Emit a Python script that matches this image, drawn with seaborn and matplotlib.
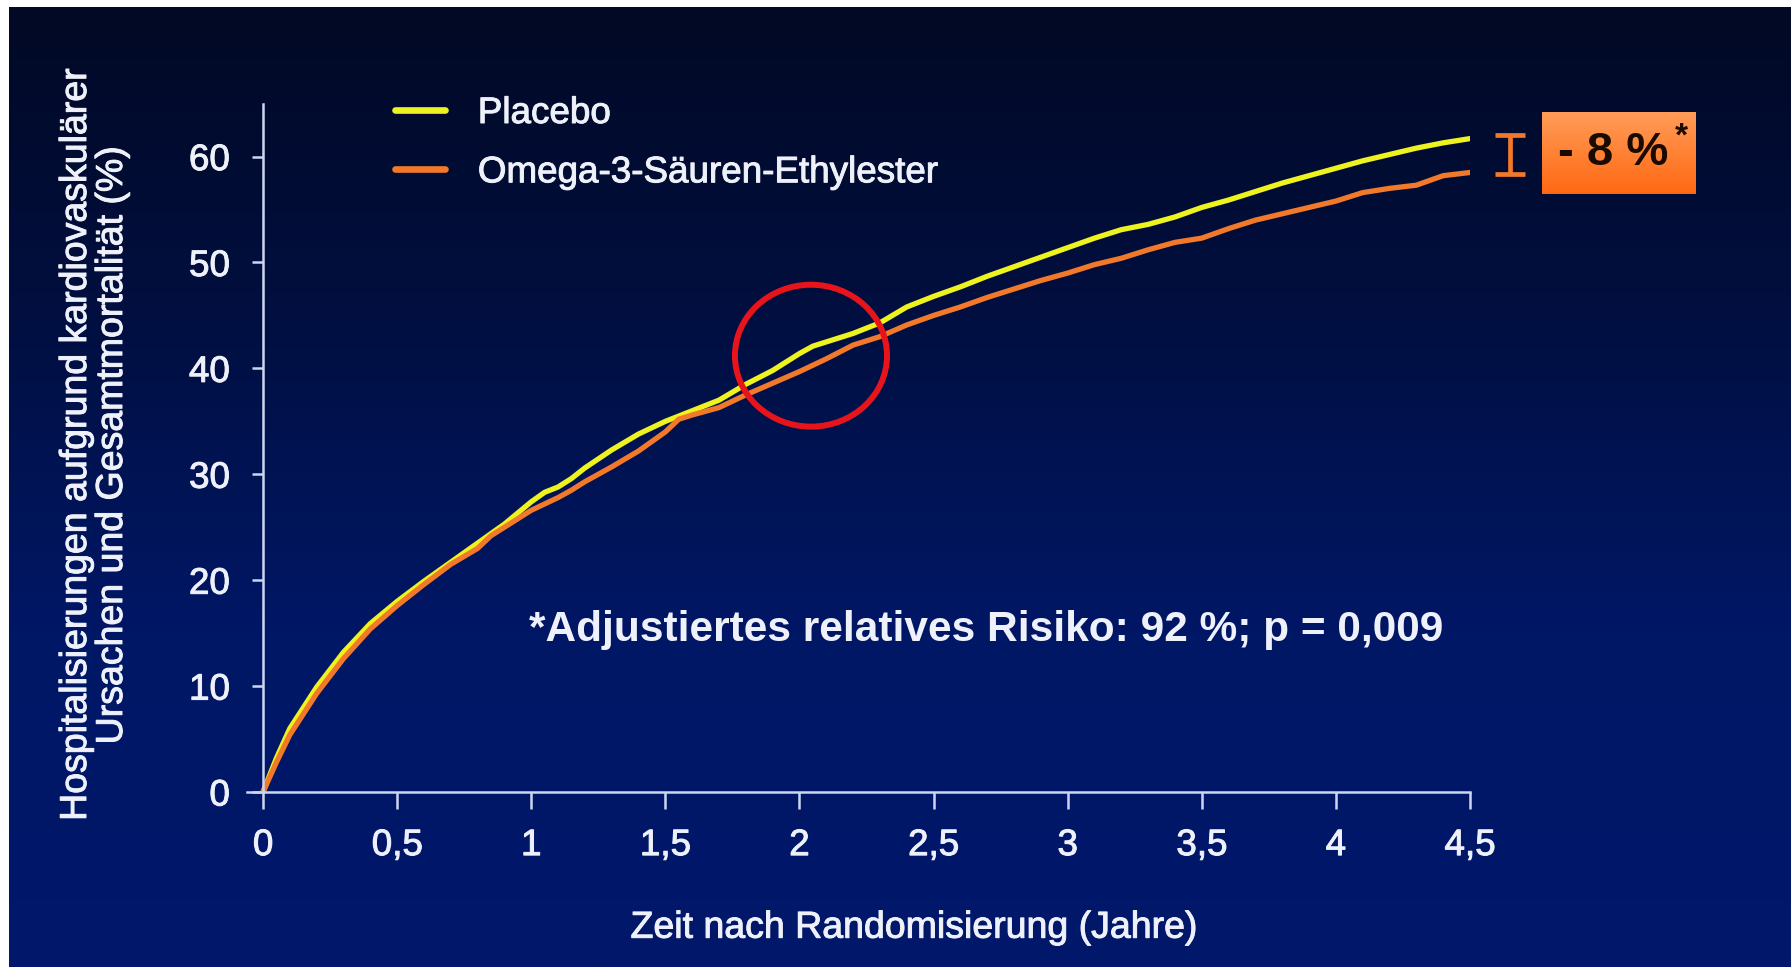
import numpy as np
import pandas as pd
import matplotlib
matplotlib.use("Agg")
import matplotlib.pyplot as plt
from matplotlib.patches import Ellipse
from matplotlib.lines import Line2D
import matplotlib.patheffects as pe
import seaborn as sns

# ---------------- data ----------------
zeit = [0, 0.05, 0.1, 0.2, 0.3, 0.4, 0.5, 0.6, 0.7, 0.8, 0.85, 0.9, 1.0, 1.05, 1.1, 1.15, 1.2,
        1.3, 1.4, 1.5, 1.55, 1.6, 1.7, 1.8, 1.9, 2.0, 2.05, 2.1, 2.2, 2.25, 2.3, 2.4, 2.5, 2.6,
        2.7, 2.8, 2.9, 3.0, 3.1, 3.2, 3.3, 3.4, 3.5, 3.6, 3.7, 3.8, 3.9, 4.0, 4.1, 4.2, 4.3,
        4.4, 4.5]
placebo = [0, 3.2, 6.0, 9.9, 13.2, 15.9, 18.0, 19.9, 21.7, 23.5, 24.4, 25.3, 27.4, 28.3, 28.8,
           29.6, 30.6, 32.3, 33.8, 35.0, 35.5, 36.0, 37.0, 38.5, 39.8, 41.4, 42.1, 42.5, 43.3,
           43.8, 44.3, 45.8, 46.8, 47.7, 48.7, 49.6, 50.5, 51.4, 52.3, 53.1, 53.6, 54.3, 55.2,
           55.9, 56.7, 57.5, 58.2, 58.9, 59.6, 60.2, 60.8, 61.3, 61.7]
omega3 = [0, 2.8, 5.4, 9.3, 12.6, 15.4, 17.6, 19.6, 21.5, 23.0, 24.2, 25.0, 26.6, 27.2, 27.8,
          28.5, 29.3, 30.7, 32.2, 34.0, 35.2, 35.6, 36.3, 37.5, 38.6, 39.7, 40.3, 40.9, 42.2,
          42.6, 43.0, 44.1, 45.0, 45.8, 46.7, 47.5, 48.3, 49.0, 49.8, 50.4, 51.2, 51.9, 52.3,
          53.2, 54.0, 54.6, 55.2, 55.8, 56.6, 57.0, 57.3, 58.2, 58.5]
gruppen = ["Placebo", "Omega-3-Säuren-Ethylester"]
x_ticks = [0, 0.5, 1, 1.5, 2, 2.5, 3, 3.5, 4, 4.5]
x_ticklabels = ["0", "0,5", "1", "1,5", "2", "2,5", "3", "3,5", "4", "4,5"]
y_ticks = [0, 10, 20, 30, 40, 50, 60]
y_ticklabels = ["0", "10", "20", "30", "40", "50", "60"]
differenz_oben = 62.0
differenz_unten = 58.4
differenz_text = "- 8 %"
differenz_stern = "*"
fussnote = "*Adjustiertes relatives Risiko: 92 %; p = 0,009"
xlabel = "Zeit nach Randomisierung (Jahre)"
ylabel = "Hospitalisierungen aufgrund kardiovaskulärer\nUrsachen und Gesamtmortalität (%)"

df = pd.DataFrame({
    "Zeit": zeit * 2,
    "Wert": placebo + omega3,
    "Gruppe": [gruppen[0]] * len(zeit) + [gruppen[1]] * len(zeit),
})

# ---------------- style ----------------
sns.set_theme(style="white")
plt.rcParams["font.family"] = ["Liberation Sans", "DejaVu Sans"]
TXT = "#EEF1FA"
AXC = "#CDD6F0"
YELLOW = "#EEF21E"
ORANGE = "#F2782A"
thick = [pe.withStroke(linewidth=0.7, foreground=TXT)]

W, H = 1791, 967
fig = plt.figure(figsize=(W / 100, H / 100), dpi=100, facecolor="white")

# gradient background (white frame at top and left)
bg = fig.add_axes([9 / W, 0, 1 - 9 / W, 1 - 7 / H])
bg.set_axis_off()
ys = np.linspace(0, 1, 400)
stops_pos = [0.0, 0.32, 0.65, 1.0]
stops_col = np.array([[2, 9, 36], [1, 15, 64], [0, 23, 102], [0, 24, 107]]) / 255
grad = np.stack([np.interp(ys, stops_pos, stops_col[:, c]) for c in range(3)], axis=-1)
bg.imshow(grad[:, None, :], aspect="auto", extent=[0, 1, 1, 0])
bg.set_xlim(0, 1)
bg.set_ylim(1, 0)

# main axes
x_left_px = 263 - 0.06 * 268.2
ax = fig.add_axes([x_left_px / W, (H - 792) / H, (1470 - x_left_px) / W, 65 * 10.59 / H])
ax.patch.set_alpha(0)

sns.lineplot(data=df, x="Zeit", y="Wert", hue="Gruppe", hue_order=gruppen,
             palette={gruppen[0]: YELLOW, gruppen[1]: ORANGE}, linewidth=3.8,
             ax=ax, legend=False, estimator=None, sort=False)

ax.set_xlim(-0.06, 4.5)
ax.set_ylim(0, 65)
for s in ["top", "right"]:
    ax.spines[s].set_visible(False)
ax.spines["left"].set_position(("data", 0))
for s in ["left", "bottom"]:
    ax.spines[s].set_color(AXC)
    ax.spines[s].set_linewidth(1.8)

ax.set_xticks(x_ticks)
ax.set_xticklabels(x_ticklabels)
ax.set_yticks(y_ticks)
ax.set_yticklabels(y_ticklabels)
ax.tick_params(axis="x", direction="out", length=12, width=1.8, color=AXC, pad=14,
               labelsize=26.5, labelcolor=TXT, bottom=True)
ax.tick_params(axis="y", direction="out", length=8, width=1.8, color=AXC, pad=16,
               labelsize=26.5, labelcolor=TXT, left=True)
for lab in ax.get_xticklabels() + ax.get_yticklabels():
    lab.set_path_effects(thick)

ax.set_xlabel(xlabel, fontsize=27, color=TXT, path_effects=thick)
ax.xaxis.set_label_coords((914 - x_left_px) / (1470 - x_left_px), -0.171)
ax.set_ylabel(ylabel, fontsize=27, color=TXT, linespacing=1.0, path_effects=thick)
ax.yaxis.set_label_coords((130 - x_left_px) / (1470 - x_left_px), 0.504)

# legend
handles = [Line2D([], [], color=YELLOW, lw=4.8), Line2D([], [], color=ORANGE, lw=4.8)]
leg = ax.legend(handles, gruppen, loc="upper left", bbox_to_anchor=(395 / W, 1 - 96 / H),
                bbox_transform=fig.transFigure, frameon=False, fontsize=26.5,
                handlelength=1.35, handletextpad=0.9, labelspacing=0.66,
                borderpad=0, borderaxespad=0)
for t in leg.get_texts():
    t.set_color(TXT)
    t.set_path_effects(thick)

# footnote
ax.text(2.696, 15.3, fussnote, fontsize=30.5, fontweight="bold", color=TXT,
        ha="center", va="center")

# red circle
ax.add_patch(Ellipse((2.043, 41.2), 0.567, 13.4, fill=False, ec="#E8141C", lw=4.3,
                     zorder=5))

# difference I-beam
half = (differenz_oben - differenz_unten) / 2
eb = ax.errorbar([4.65], [(differenz_oben + differenz_unten) / 2], yerr=[[half], [half]],
                 fmt="none", ecolor=ORANGE, elinewidth=3.4, capsize=10.5, capthick=3.4)
for art in eb.lines:
    if isinstance(art, (list, tuple)):
        for a in art:
            a.set_clip_on(False)
    elif art is not None:
        art.set_clip_on(False)

# orange gradient box
bx = fig.add_axes([1542 / W, 1 - 194 / H, (1696 - 1542) / W, (194 - 112) / H])
bx.set_axis_off()
gy = np.linspace(0, 1, 100)
top_c = np.array([255, 156, 88]) / 255
bot_c = np.array([255, 104, 18]) / 255
box_grad = top_c[None, :] * (1 - gy[:, None]) + bot_c[None, :] * gy[:, None]
bx.imshow(box_grad[:, None, :], aspect="auto", extent=[0, 1, 1, 0])
bx.set_xlim(0, 1)
bx.set_ylim(1, 0)
bx.text(0.46, 0.5, differenz_text, transform=bx.transAxes, fontsize=34, fontweight="bold",
        color="#1A0A00", ha="center", va="center")
bx.text(0.86, 0.70, differenz_stern, transform=bx.transAxes, fontsize=24, fontweight="bold",
        color="#1A0A00", ha="left", va="center")

fig.savefig("out.png", dpi=100, facecolor=fig.get_facecolor())
